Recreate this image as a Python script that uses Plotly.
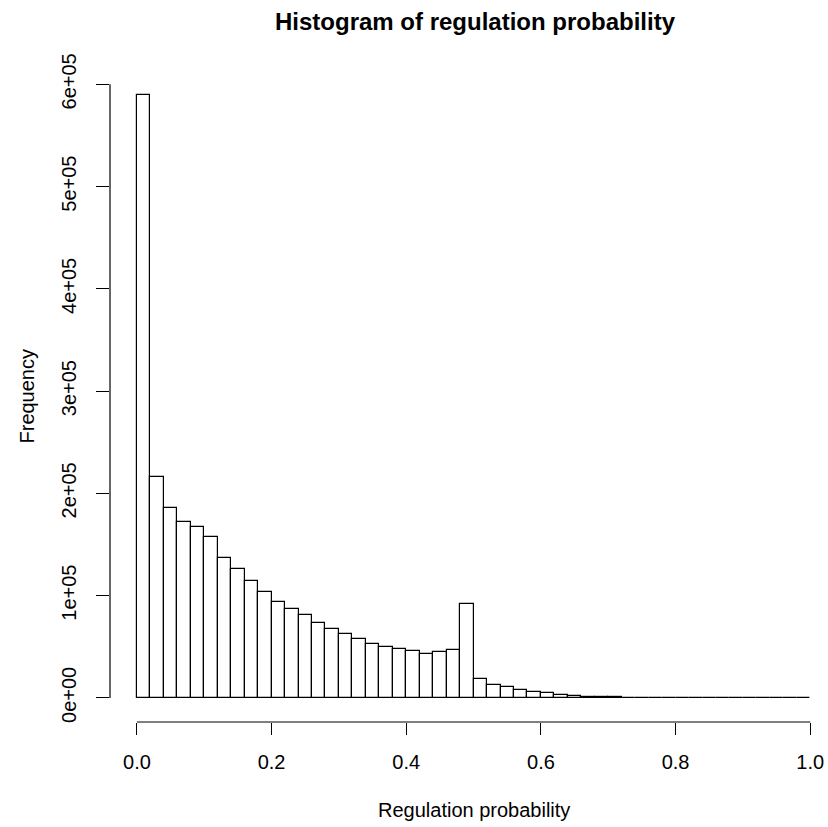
import numpy as np
import plotly.graph_objects as go

# ---- data ----
bin_width = 0.02
bin_edges = np.round(np.arange(0, 1.0 + bin_width / 2, bin_width), 2)
counts = [589500, 215800, 185400, 172100, 167300, 157500, 137300, 125800, 114100, 103700,
          93900, 87100, 80900, 73000, 67200, 62300, 57400, 52900, 49900, 48000,
          45400, 43400, 44700, 46700, 92000, 18600, 12800, 10800, 8200, 5900,
          4300, 3000, 1900, 1100, 700, 450, 320, 220, 160, 120,
          100, 80, 60, 50, 40, 30, 25, 20, 15, 10]
x_ticks = [0.0, 0.2, 0.4, 0.6, 0.8, 1.0]
x_tick_labels = ["0.0", "0.2", "0.4", "0.6", "0.8", "1.0"]
y_ticks = [0, 100000, 200000, 300000, 400000, 500000, 600000]
y_tick_labels = ["0e+00", "1e+05", "2e+05", "3e+05", "4e+05", "5e+05", "6e+05"]
title_text = "Histogram of regulation probability"
x_title = "Regulation probability"
y_title = "Frequency"

centers = (bin_edges[:-1] + bin_edges[1:]) / 2
ymax = max(counts)

FONT = "Liberation Sans, Arial, Helvetica, sans-serif"

fig = go.Figure()
fig.add_trace(go.Bar(
    x=centers, y=counts, width=bin_width,
    marker=dict(color="white", line=dict(color="black", width=1.2)),
    hoverinfo="x+y", showlegend=False,
))

fig.update_layout(
    width=828, height=827,
    margin=dict(l=110, r=0, t=71, b=105, pad=0),
    plot_bgcolor="white", paper_bgcolor="white",
    bargap=0,
    font=dict(family=FONT, size=20, color="black"),
    title=dict(text="<b>" + title_text + "</b>", font=dict(size=24, family=FONT, color="black"),
               x=475 / 828, xref="container", xanchor="center",
               y=1 - 22 / 827, yref="container", yanchor="middle"),
    xaxis=dict(range=[-0.04, -0.04 + 718 / 673.3], showgrid=False, zeroline=False, showline=False,
               ticks="outside", ticklen=12, tickwidth=1.2, tickcolor="black",
               tickvals=x_ticks, ticktext=x_tick_labels, ticklabelstandoff=10,
               tickfont=dict(size=20)),
    yaxis=dict(range=[-0.04 * ymax, 1.04 * ymax], showgrid=False, zeroline=False, showline=False,
               ticks="outside", ticklen=13, tickwidth=1.2, tickcolor="black",
               tickvals=y_ticks, ticktext=y_tick_labels, tickangle=-90, ticklabelstandoff=12,
               tickfont=dict(size=20)),
    shapes=[
        dict(type="line", xref="x", yref="paper", x0=x_ticks[0], x1=x_ticks[-1], y0=0, y1=0,
             line=dict(color="black", width=1.2)),
        dict(type="line", xref="paper", yref="y", x0=0, x1=0, y0=y_ticks[0], y1=y_ticks[-1],
             line=dict(color="black", width=1.2)),
    ],
    annotations=[
        dict(text=x_title, xref="x", yref="paper", x=0.5, y=0, yshift=-88,
             xanchor="center", yanchor="middle", showarrow=False, font=dict(size=20)),
        dict(text=y_title, xref="paper", yref="paper", x=0, y=0.5, xshift=-84,
             xanchor="center", yanchor="middle", textangle=-90, showarrow=False, font=dict(size=20)),
    ],
)

fig.write_html("out.html", config={"displayModeBar": False},
               post_script="document.body.style.margin='0';document.body.style.overflow='hidden';")
